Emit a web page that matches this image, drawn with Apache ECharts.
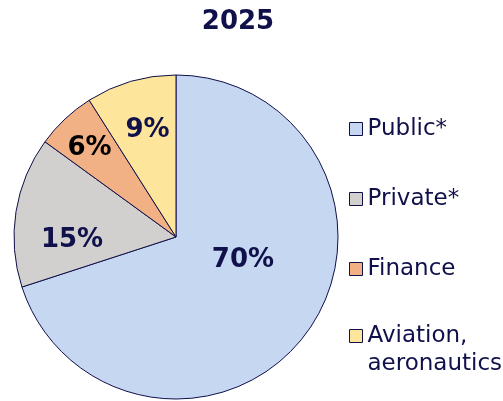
<!DOCTYPE html>
<html>
<head>
<meta charset="utf-8">
<script src="https://cdn.jsdelivr.net/npm/echarts@6/dist/echarts.min.js"></script>
<style>
  html, body { margin: 0; padding: 0; background: #fff; }
  #chart { width: 503px; height: 401px; }
</style>
</head>
<body>
<div id="chart"></div>
<script>
// data
var title = '2025';
var categories = ['Public*', 'Private*', 'Finance', 'Aviation, aeronautics'];
var values = [70, 15, 6, 9];

// styling
var colors = ['#c6d7f2', '#d2d0cf', '#f2b085', '#fde69c'];
var labelColors = ['#10104a', '#10104a', '#000000', '#10104a'];
var labelOffsets = [[-1, -26], [-21, 16], [-29, -28], [-5, -26]]; // nudge like the original
var navy = '#10104a';
var font = 'DejaVu Sans';

var chart = echarts.init(document.getElementById('chart'), null, { renderer: 'canvas' });

var pieData = categories.map(function (name, i) {
  return {
    name: name,
    value: values[i],
    itemStyle: { color: colors[i] },
    label: { color: labelColors[i], offset: labelOffsets[i] }
  };
});

// shared legend look
function legendBase(top) {
  return {
    orient: 'vertical',
    left: 349,
    top: top,
    padding: 0,
    itemGap: 42,
    itemWidth: 13,
    itemHeight: 13,
    icon: 'rect',
    selectedMode: false,
    itemStyle: { borderColor: navy, borderWidth: 1 },
    textStyle: { fontFamily: font, fontSize: 23, color: navy, lineHeight: 28 }
  };
}

// single line entries
var legendTop = legendBase(115);
legendTop.data = categories.slice(0, 3);

// two line entry, blank line first so "Aviation," sits level with the marker
var legendLast = legendBase(294);
legendLast.data = categories.slice(3);
legendLast.formatter = function (name) {
  return '\n' + name.replace(', ', ',\n');
};

chart.setOption({
  animation: false,
  backgroundColor: '#ffffff',
  title: {
    text: title,
    left: 233,
    top: 4,
    textAlign: 'center',
    textStyle: { fontFamily: font, fontSize: 26, fontWeight: 'bold', color: navy }
  },
  legend: [legendTop, legendLast],
  series: [{
    type: 'pie',
    center: [176, 237],
    radius: 162,
    startAngle: 90,
    clockwise: true,
    data: pieData,
    itemStyle: { borderColor: navy, borderWidth: 1 },
    label: {
      position: 'inside',
      formatter: '{c}%',
      fontFamily: font,
      fontSize: 26,
      fontWeight: 'bold'
    },
    labelLine: { show: false },
    emphasis: { disabled: true }
  }]
});
</script>
</body>
</html>
